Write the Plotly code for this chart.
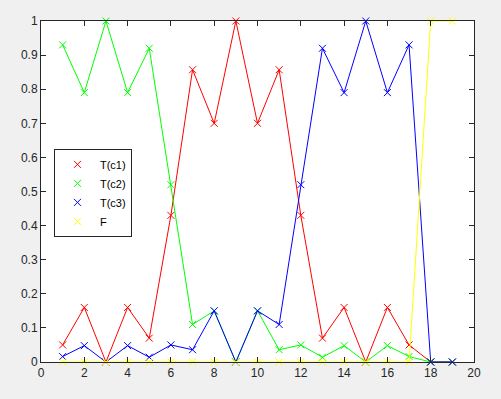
import plotly.graph_objects as go

# sample index
idx = list(range(1, 20))

# series values
t_c1 = [0.05, 0.16, 0.0, 0.16, 0.07, 0.43, 0.857, 0.70, 1.0, 0.70,
        0.857, 0.43, 0.07, 0.16, 0.0, 0.16, 0.05, 0.0, 0.0]
t_c2 = [0.93, 0.79, 1.0, 0.79, 0.92, 0.52, 0.11, 0.15, 0.0, 0.15,
        0.036, 0.05, 0.014, 0.048, 0.0, 0.048, 0.016, 0.0, 0.0]
t_c3 = [0.016, 0.048, 0.0, 0.048, 0.014, 0.05, 0.036, 0.15, 0.0, 0.15,
        0.11, 0.52, 0.92, 0.79, 1.0, 0.79, 0.93, 0.0, 0.0]
f_val = [0.0] * 17 + [1.0, 1.0]

names = ["T(c1)", "T(c2)", "T(c3)", "F"]
series = [t_c1, t_c2, t_c3, f_val]
colors = ["#ff0000", "#00ff00", "#0000ff", "#ffff00"]

fig = go.Figure()

# line + marker per series; only the markers carry the legend (like the MATLAB one)
for name, ys, col in zip(names, series, colors):
    fig.add_trace(go.Scatter(x=idx, y=ys, mode="lines", name=name,
                             line=dict(color=col, width=1),
                             showlegend=False, hoverinfo="skip"))
    fig.add_trace(go.Scatter(x=idx, y=ys, mode="markers", name=name,
                             marker=dict(symbol="x-thin", size=7,
                                         line=dict(color=col, width=1)),
                             cliponaxis=False))

axis_common = dict(showline=True, linecolor="#262626", linewidth=1,
                   mirror="ticks", ticks="inside", ticklen=5,
                   tickcolor="#262626", showgrid=False, zeroline=False,
                   tickfont=dict(family="Liberation Sans, Arial", size=12,
                                 color="#262626"))

fig.update_layout(
    width=501, height=399,
    margin=dict(l=41, r=27, t=21, b=37),
    paper_bgcolor="#f0f0f0",
    plot_bgcolor="white",
    showlegend=True,
    legend=dict(x=0.03, y=0.625, xanchor="left", yanchor="top",
                bgcolor="white", bordercolor="#262626", borderwidth=1,
                font=dict(family="Liberation Sans, Arial", size=11,
                          color="#000000"),
                tracegroupgap=0, itemwidth=35),
)
fig.update_xaxes(range=[0, 20], dtick=2, tick0=0, **axis_common)
fig.update_yaxes(range=[0, 1], dtick=0.1, tick0=0, **axis_common)

fig.write_html("out.html", config={"displayModeBar": False},
               post_script="document.body.style.margin='0';")
